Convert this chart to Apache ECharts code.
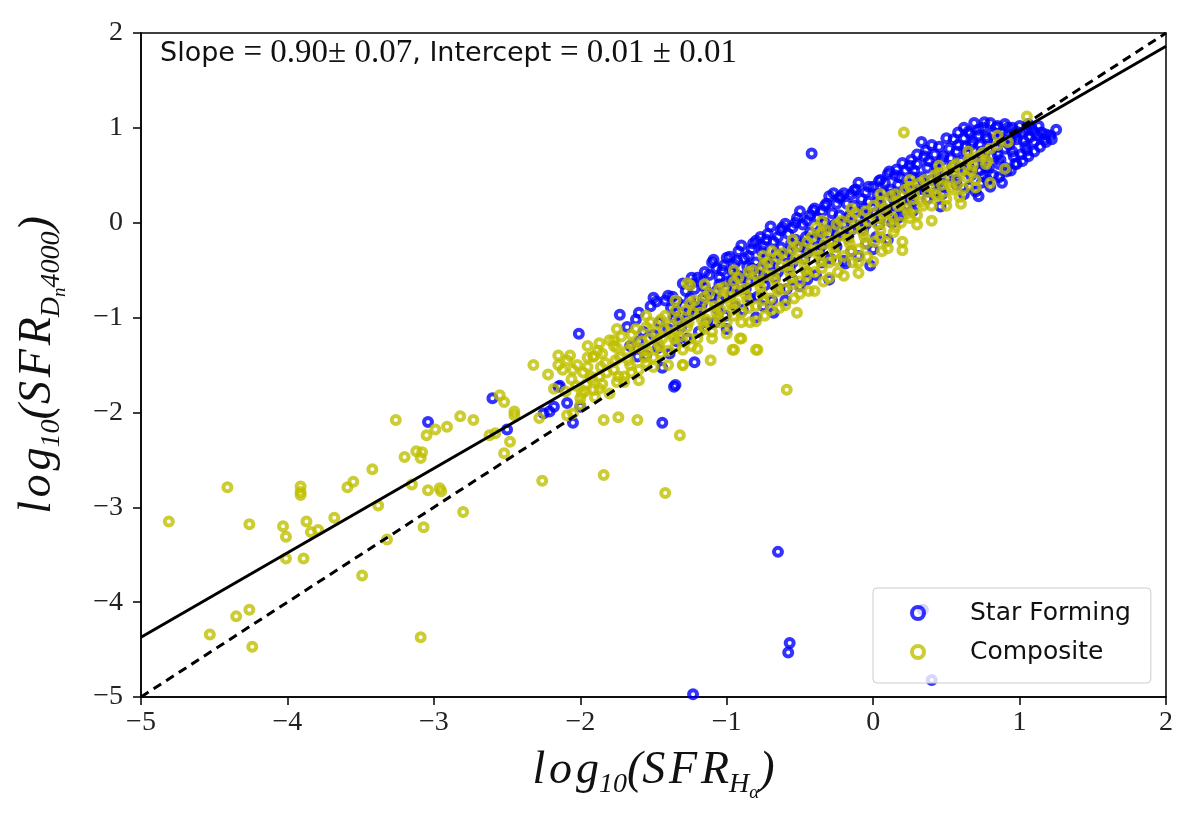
<!DOCTYPE html>
<html>
<head>
<meta charset="utf-8">
<title>SFR Dn4000 vs Halpha</title>
<script src="https://cdn.jsdelivr.net/npm/echarts@6/dist/echarts.min.js"></script>
<style>
    html, body {margin: 0; padding: 0; background: #fff;}
    #chart {width: 1196px; height: 826px;}
</style>
</head>
<body>
<div id="chart"></div>
<script>
// 坐标轴刻度
var xTicks = [-5, -4, -3, -2, -1, 0, 1, 2];
var yTicks = [-5, -4, -3, -2, -1, 0, 1, 2];

// Star Forming 主带
var sfBand = [
    [-1.73,-0.97],[-1.68,-1.10],[-1.66,-1.30],
    [-1.62,-1.02],[-1.57,-1.15],[-1.55,-1.40],[-1.60,-1.25],
    [-1.52,-0.88],[-1.48,-0.83],[-1.46,-1.05],[-1.50,-1.18],[-1.44,-1.53],[-1.47,-1.32],
    [-1.42,-0.82],[-1.38,-0.90],[-1.36,-1.00],[-1.40,-1.12],[-1.34,-1.25],[-1.39,-1.38],
    [-1.34,-0.83],[-1.30,-0.87],[-1.28,-0.72],[-1.26,-0.95],[-1.31,-1.10],[-1.27,-1.22],[-1.22,-1.47],
    [-1.22,-0.70],[-1.18,-0.62],[-1.16,-0.80],[-1.20,-0.90],[-1.14,-1.05],[-1.19,-1.15],[-1.24,-0.58],
    [-1.12,-0.55],[-1.09,-0.39],[-1.07,-0.48],[-1.05,-0.65],[-1.10,-0.78],[-1.06,-0.92],[-1.08,-1.05],
    [-1.02,-0.45],[-0.98,-0.36],[-0.96,-0.52],[-1.00,-0.62],[-0.97,-0.75],[-0.94,-0.88],[-1.01,-0.98],
    [-0.92,-0.30],[-0.88,-0.38],[-0.86,-0.46],[-0.90,-0.58],[-0.87,-0.70],[-0.84,-0.80],[-0.89,-0.92],
    [-0.82,-0.22],[-0.77,-0.15],[-0.76,-0.30],[-0.80,-0.42],[-0.78,-0.55],[-0.74,-0.66],[-0.79,-0.78],[-0.75,-0.88],
    [-0.72,-0.12],[-0.68,-0.20],[-0.66,-0.32],[-0.70,-0.45],[-0.67,-0.58],[-0.68,-0.95],[-0.64,-0.70],[-0.69,-0.82],
    [-0.62,-0.05],[-0.58,-0.12],[-0.56,-0.22],[-0.60,-0.35],[-0.57,-0.48],[-0.55,-0.60],[-0.59,-0.70],
    [-0.52,0.05],[-0.48,-0.02],[-0.46,-0.15],[-0.50,-0.25],[-0.47,-0.38],[-0.50,-0.67],[-0.45,-0.52],
    [-0.41,0.13],[-0.38,0.05],[-0.36,-0.08],[-0.40,-0.18],[-0.37,-0.30],[-0.35,-0.42],[-0.39,-0.55],
    [-0.32,0.20],[-0.27,0.31],[-0.28,0.10],[-0.26,-0.02],[-0.30,-0.12],[-0.30,-0.60],[-0.25,-0.25],[-0.29,-0.38],
    [-0.22,0.28],[-0.18,0.20],[-0.16,0.08],[-0.20,-0.02],[-0.19,-0.43],[-0.17,-0.15],[-0.15,-0.30],
    [-0.12,0.35],[-0.08,0.25],[-0.06,0.15],[-0.10,0.05],[-0.02,-0.45],[-0.07,-0.08],[-0.05,-0.22],
    [0.00,0.38],[0.03,0.30],[0.05,0.20],[0.01,0.10],[0.04,-0.02],[0.02,-0.15],
    [0.11,0.54],[0.08,0.42],[0.12,0.35],[0.14,0.25],[0.10,0.12],[0.13,0.00],
    [0.22,0.55],[0.18,0.48],[0.24,0.40],[0.20,0.30],[0.23,0.18],[0.19,0.08],
    [0.33,0.85],[0.30,0.62],[0.28,0.55],[0.34,0.45],[0.31,0.35],[0.27,0.22],
    [0.42,0.72],[0.38,0.65],[0.44,0.55],[0.40,0.45],[0.46,0.17],[0.43,0.32],
    [0.50,0.89],[0.52,0.78],[0.48,0.70],[0.54,0.60],[0.51,0.48],[0.47,0.38],
    [0.62,0.89],[0.58,0.82],[0.64,0.74],[0.60,0.65],[0.63,0.55],[0.57,0.45],
    [0.69,1.05],[0.72,0.92],[0.68,0.85],[0.74,0.75],[0.70,0.62],[0.75,0.49],[0.73,0.55],
    [0.80,1.05],[0.82,0.95],[0.78,0.88],[0.84,0.80],[0.81,0.70],[0.86,0.62],[0.79,0.58],
    [0.91,0.54],[0.92,1.00],[0.88,0.95],[0.94,0.88],[0.90,0.78],[0.96,0.70],
    [1.00,1.02],[1.02,0.95],[0.98,0.88],[1.04,0.80],[1.01,0.72],
    [1.08,1.00],[1.12,0.92],[1.10,0.85],
    [1.21,0.92],[1.25,0.98]
];

// Star Forming 主带（中间列）
var sfBand2 = [
    [-1.35,-0.95],[-1.33,-1.05],[-1.37,-0.78],
    [-1.25,-0.80],[-1.23,-0.88],[-1.27,-1.00],[-1.25,-0.65],
    [-1.15,-0.68],[-1.13,-0.74],[-1.17,-0.86],[-1.15,-0.52],
    [-1.05,-0.58],[-1.03,-0.50],[-1.07,-0.72],[-1.05,-0.82],
    [-0.95,-0.44],[-0.93,-0.55],[-0.97,-0.62],[-0.95,-0.68],[-0.93,-0.40],
    [-0.85,-0.35],[-0.83,-0.48],[-0.87,-0.55],[-0.85,-0.62],[-0.83,-0.28],
    [-0.75,-0.25],[-0.73,-0.38],[-0.77,-0.48],[-0.75,-0.58],[-0.73,-0.18],
    [-0.65,-0.15],[-0.63,-0.26],[-0.67,-0.40],[-0.65,-0.52],[-0.63,-0.08],
    [-0.55,-0.05],[-0.53,-0.18],[-0.57,-0.30],[-0.55,-0.42],[-0.53,0.00],
    [-0.45,0.02],[-0.43,-0.10],[-0.47,-0.22],[-0.45,-0.32],[-0.43,0.08],
    [-0.35,0.12],[-0.33,0.00],[-0.37,-0.12],[-0.35,-0.24],[-0.33,0.18],
    [-0.25,0.20],[-0.23,0.08],[-0.27,-0.05],[-0.25,-0.15],[-0.23,0.26],
    [-0.15,0.30],[-0.13,0.18],[-0.17,0.05],[-0.15,-0.08],[-0.13,0.34],
    [-0.05,0.32],[-0.03,0.22],[-0.07,0.10],[-0.05,-0.02],[-0.03,0.38],
    [0.05,0.45],[0.07,0.32],[0.03,0.22],[0.05,0.05],[0.07,0.15],
    [0.15,0.50],[0.17,0.40],[0.13,0.30],[0.15,0.18],[0.17,0.05],
    [0.25,0.60],[0.27,0.48],[0.23,0.36],[0.25,0.25],[0.27,0.12],
    [0.35,0.70],[0.37,0.58],[0.33,0.48],[0.35,0.35],[0.37,0.25],
    [0.45,0.80],[0.47,0.66],[0.43,0.60],[0.45,0.42],[0.47,0.30],
    [0.55,0.88],[0.57,0.75],[0.53,0.68],[0.55,0.52],[0.57,0.40],
    [0.65,0.96],[0.67,0.82],[0.63,0.80],[0.65,0.60],[0.67,0.50],
    [0.75,1.00],[0.77,0.90],[0.73,0.82],[0.75,0.68],[0.77,0.58],
    [0.85,1.02],[0.87,0.90],[0.83,0.86],[0.85,0.72],[0.87,0.66],
    [0.95,1.00],[0.97,0.92],[0.93,0.82],[0.95,0.75],[0.97,0.62],
    [1.05,0.98],[1.07,0.90],[1.03,0.86],[1.05,0.76],
    [1.15,0.95],[1.17,0.88],[1.13,1.02]
];

// Star Forming 主带边缘
var sfBand3 = [
    [0.62,0.30],[0.66,0.38],[0.70,0.33],[0.74,0.42],[0.78,0.45],[0.82,0.50],[0.86,0.48],
    [0.90,0.58],[0.94,0.55],[0.98,0.62],[1.02,0.65],[1.06,0.70],[1.10,0.75],[1.14,0.80],
    [1.18,0.85],[1.22,0.88],[0.88,0.42],[0.80,0.38],[0.72,0.28],
    [0.58,0.95],[0.62,1.00],[0.66,0.94],[0.72,0.98],[0.76,1.06],[0.84,1.00],[0.90,1.04],
    [0.98,0.96],[1.06,1.04],[1.10,0.96],[1.18,0.93],[0.40,0.82],[0.36,0.76],[0.30,0.72],
    [0.26,0.66],[0.20,0.63],[0.16,0.56],[0.10,0.51],[0.04,0.44],
    [-0.10,0.42],[-0.20,0.31],[-0.30,0.28],[-0.40,0.15],[-0.50,0.12],[-0.60,-0.01],
    [-0.70,-0.04],[-0.80,-0.19],[-0.90,-0.24],[-1.00,-0.37],[-1.10,-0.42],[-1.20,-0.58],
    [-1.30,-0.64],[-1.40,-0.77],[-1.50,-0.79],[-1.60,-0.95],
    [-0.10,-0.35],[0.00,-0.28],[0.10,-0.18],[-0.20,-0.40],[-0.45,-0.60],[-0.60,-0.82],
    [-0.80,-1.00],[-1.00,-1.12]
];

// Star Forming 离群点
var sfOutliers = [
    [-3.04,-2.10],[-2.60,-1.85],[-2.50,-2.18],[-2.21,-1.99],[-2.15,-1.73],[-2.01,-1.17],
    [-2.14,-1.72],[-2.18,-1.94],[-2.09,-1.90],[-2.05,-2.11],[-2.00,-1.94],[-2.25,-2.01],
    [-1.44,-2.11],[-1.36,-1.73],[-1.61,-1.41],[-1.35,-1.71],[-0.42,0.73],
    [-0.65,-3.47],[-0.57,-4.43],[-0.58,-4.53],[-1.23,-4.97],[0.40,-4.82],[0.34,-4.08]
];

// Composite 主带
var compBand = [
    [-2.22,-1.60],[-2.18,-1.75],[-2.15,-1.50],
    [-2.12,-1.55],[-2.09,-1.45],[-2.06,-1.65],[-2.10,-1.78],
    [-2.02,-1.50],[-1.98,-1.58],[-1.96,-1.70],[-2.00,-1.85],[-1.95,-1.42],
    [-1.91,-1.41],[-1.88,-1.35],[-1.86,-1.52],[-1.92,-1.65],[-1.87,-1.75],
    [-1.80,-1.24],[-1.77,-1.30],[-1.76,-1.45],[-1.82,-1.58],[-1.74,-1.62],
    [-1.72,-1.20],[-1.68,-1.35],[-1.66,-1.50],[-1.70,-1.62],[-1.65,-1.28],
    [-1.62,-1.12],[-1.58,-1.25],[-1.56,-1.42],[-1.60,-1.55],[-1.54,-1.35],
    [-1.52,-1.05],[-1.48,-1.15],[-1.46,-1.30],[-1.50,-1.42],[-1.44,-1.22],
    [-1.42,-0.98],[-1.38,-1.08],[-1.36,-1.22],[-1.40,-1.35],[-1.34,-1.15],
    [-1.30,-1.50],[-1.27,-0.64],[-1.28,-0.92],[-1.26,-1.05],[-1.32,-1.20],[-1.24,-1.30],
    [-1.22,-0.82],[-1.18,-0.95],[-1.16,-1.10],[-1.20,-1.22],[-1.14,-1.02],
    [-1.11,-1.45],[-1.12,-0.75],[-1.08,-0.88],[-1.06,-1.00],[-1.10,-1.15],[-1.04,-0.92],
    [-1.02,-0.68],[-0.98,-0.78],[-0.96,-0.92],[-1.00,-1.05],[-0.95,-1.34],[-0.94,-0.85],
    [-0.91,-1.22],[-0.92,-0.58],[-0.88,-0.70],[-0.86,-0.82],[-0.90,-0.95],[-0.84,-1.05],
    [-0.80,-1.34],[-0.82,-0.50],[-0.78,-0.62],[-0.76,-0.75],[-0.80,-0.88],[-0.74,-0.98],
    [-0.72,-0.42],[-0.68,-0.55],[-0.66,-0.68],[-0.70,-0.80],[-0.64,-0.90],[-0.69,-0.30],
    [-0.62,-0.32],[-0.58,-0.45],[-0.56,-0.58],[-0.60,-0.70],[-0.54,-0.80],
    [-0.52,-0.95],[-0.52,-0.25],[-0.48,-0.38],[-0.46,-0.50],[-0.50,-0.62],[-0.44,-0.72],
    [-0.42,-0.15],[-0.38,-0.28],[-0.36,-0.40],[-0.40,-0.52],[-0.34,-0.62],[-0.39,-0.05],
    [-0.32,-0.08],[-0.28,-0.20],[-0.26,-0.32],[-0.30,-0.42],[-0.24,-0.52],
    [-0.22,0.02],[-0.18,-0.10],[-0.16,-0.22],[-0.20,-0.35],[-0.14,-0.42],
    [-0.10,-0.53],[-0.12,0.10],[-0.08,-0.02],[-0.06,-0.15],[-0.10,-0.28],[-0.04,-0.36],
    [0.00,0.18],[0.03,0.05],[0.05,-0.08],[0.01,-0.20],[0.06,-0.30],
    [0.12,0.28],[0.08,0.15],[0.10,0.02],[0.14,-0.10],[0.09,-0.20],
    [0.20,-0.29],[0.22,0.35],[0.18,0.22],[0.24,0.10],[0.19,0.00],
    [0.32,0.42],[0.28,0.30],[0.34,0.18],[0.30,0.08],
    [0.42,0.50],[0.38,0.38],[0.44,0.28],[0.40,0.18],
    [0.52,0.55],[0.48,0.45],[0.54,0.35],[0.50,0.25],
    [0.59,0.27],[0.62,0.36],[0.60,0.55],[0.64,0.48],[0.57,0.62],
    [0.72,0.70],[0.68,0.60],[0.70,0.45],
    [0.80,0.78],[0.78,0.65],[0.92,0.85],[1.05,1.12],[0.21,0.95]
];

// Composite 主带（中间列）
var compBand2 = [
    [-2.05,-1.55],[-2.03,-1.72],[-2.07,-1.40],
    [-1.95,-1.52],[-1.93,-1.62],[-1.97,-1.78],
    [-1.85,-1.38],[-1.83,-1.48],[-1.87,-1.62],[-1.85,-1.70],
    [-1.75,-1.32],[-1.73,-1.42],[-1.77,-1.55],[-1.75,-1.68],
    [-1.65,-1.18],[-1.63,-1.32],[-1.67,-1.45],[-1.65,-1.58],
    [-1.55,-1.10],[-1.53,-1.22],[-1.57,-1.35],[-1.55,-1.48],
    [-1.45,-1.02],[-1.43,-1.12],[-1.47,-1.26],[-1.45,-1.38],
    [-1.35,-0.92],[-1.33,-1.02],[-1.37,-1.18],[-1.35,-1.30],
    [-1.25,-0.85],[-1.23,-0.95],[-1.27,-1.10],[-1.25,-1.22],
    [-1.15,-0.78],[-1.13,-0.88],[-1.17,-1.02],[-1.15,-1.12],
    [-1.05,-0.70],[-1.03,-0.80],[-1.07,-0.95],[-1.05,-1.05],
    [-0.95,-0.62],[-0.93,-0.72],[-0.97,-0.85],[-0.95,-0.98],
    [-0.85,-0.52],[-0.83,-0.62],[-0.87,-0.76],[-0.85,-0.90],
    [-0.75,-0.45],[-0.73,-0.55],[-0.77,-0.68],[-0.75,-0.82],
    [-0.65,-0.36],[-0.63,-0.46],[-0.67,-0.60],[-0.65,-0.72],
    [-0.55,-0.28],[-0.53,-0.38],[-0.57,-0.52],[-0.55,-0.65],
    [-0.45,-0.20],[-0.43,-0.30],[-0.47,-0.44],[-0.45,-0.55],
    [-0.35,-0.10],[-0.33,-0.22],[-0.37,-0.35],[-0.35,-0.48],
    [-0.25,-0.02],[-0.23,-0.14],[-0.27,-0.26],[-0.25,-0.40],
    [-0.15,0.05],[-0.13,-0.06],[-0.17,-0.18],[-0.15,-0.30],
    [-0.05,0.12],[-0.03,0.02],[-0.07,-0.10],[-0.05,-0.22],
    [0.05,0.22],[0.07,0.10],[0.03,-0.02],[0.05,-0.15],
    [0.15,0.30],[0.17,0.18],[0.13,0.06],[0.15,-0.05],
    [0.25,0.38],[0.27,0.25],[0.23,0.15],[0.25,0.05],
    [0.35,0.45],[0.37,0.32],[0.33,0.22],
    [0.45,0.52],[0.47,0.40],[0.43,0.30],
    [0.55,0.60],[0.57,0.46],[0.53,0.38],
    [0.65,0.66],[0.67,0.55],
    [0.75,0.74],[0.77,0.62],
    [0.85,0.82]
];

// Composite 主带边缘
var compBand3 = [
    [-2.00,-1.92],[-1.90,-1.84],[-1.80,-1.80],[-1.70,-1.68],[-1.60,-1.66],[-1.50,-1.52],
    [-1.40,-1.50],[-1.30,-1.34],[-1.20,-1.33],[-1.10,-1.22],[-1.00,-1.17],[-0.90,-1.05],
    [-0.80,-1.04],[-0.70,-0.92],[-0.60,-0.87],[-0.50,-0.75],[-0.40,-0.72],[-0.30,-0.58],
    [-0.20,-0.56],[-0.10,-0.42],[0.00,-0.41],[0.10,-0.27],[0.20,-0.20],[0.30,-0.02],
    [0.40,0.02],[0.50,0.18],[0.60,0.20],[0.70,0.37],[0.80,0.42],[0.90,0.57],
    [-2.15,-1.40],[-1.95,-1.30],[-1.75,-1.12],[-1.55,-0.98],[-1.35,-0.82],[-1.15,-0.65],
    [-0.95,-0.50],[-0.75,-0.35],[-0.55,-0.18],[-0.35,0.02],[-0.15,0.15],[0.05,0.30],
    [0.25,0.45],[0.45,0.60],[0.65,0.75],[0.85,0.92]
];

// Composite 离群点
var compOutliers = [
    [-4.81,-3.15],[-4.41,-2.79],[-4.26,-3.18],[-4.03,-3.20],[-4.01,-3.31],[-3.91,-2.78],
    [-3.91,-2.84],[-3.91,-2.87],[-3.87,-3.15],[-3.84,-3.26],[-3.79,-3.24],[-4.01,-3.54],
    [-3.89,-3.54],[-3.68,-3.11],[-3.59,-2.79],[-3.55,-2.73],[-3.42,-2.60],[-3.38,-2.98],
    [-3.32,-3.34],[-3.49,-3.72],[-3.26,-2.08],[-3.20,-2.47],[-3.12,-2.41],[-3.08,-2.42],
    [-3.09,-2.48],[-3.05,-2.24],[-2.99,-2.18],[-2.91,-2.15],[-2.82,-2.04],[-2.73,-2.08],
    [-3.15,-2.76],[-3.04,-2.82],[-2.96,-2.80],[-2.95,-2.83],[-3.07,-3.21],[-2.80,-3.05],
    [-3.09,-4.37],[-4.53,-4.34],[-4.35,-4.15],[-4.26,-4.08],[-4.24,-4.47],[-2.62,-2.24],
    [-2.58,-2.22],[-2.48,-2.31],[-2.52,-2.43],[-2.55,-1.82],[-2.52,-1.89],[-2.45,-1.99],
    [-2.45,-2.03],[-2.28,-2.06],[-2.26,-2.72],[-2.32,-1.50],[-2.09,-2.03],[-2.05,-2.01],
    [-1.99,-1.80],[-1.91,-1.76],[-1.84,-2.08],[-1.74,-2.05],[-1.61,-2.08],[-1.32,-2.24],
    [-1.84,-2.66],[-1.42,-2.85],[-1.30,-1.50],[-0.96,-1.34],[-0.79,-1.34],[-0.90,-1.22],
    [-1.87,-1.27],[-1.77,-1.24],[-1.91,-1.41],[-1.25,-0.66],[-0.59,-1.76]
];

// 拟合线与 1:1 线
var fitLine = [[-5, -4.37], [2, 1.86]];
var oneToOne = [[-5, -5], [2, 2]];

var mathFont = 'Liberation Serif';
var sansFont = 'DejaVu Sans';
var hs = '\u200a';

function minusLabel(v) {
    return String(v).replace('-', '\u2212');
}

function initChart() {
    var chart = echarts.init(document.getElementById('chart'));

    // 下标用 padding 往下压
    var nameRich = {
        m: {fontFamily: mathFont, fontStyle: 'italic', fontSize: 46, color: '#111'},
        s: {fontFamily: mathFont, fontStyle: 'italic', fontSize: 28, padding: [28, 0, 0, 0], color: '#111'},
        ss: {fontFamily: mathFont, fontStyle: 'italic', fontSize: 19, padding: [44, 0, 0, 0], color: '#111'}
    };
    var sfr = 'S' + hs + 'F' + hs + 'R';
    var lg = 'l' + hs + 'o' + hs + 'g';

    var option = {
        backgroundColor: '#fff',
        animation: false,
        title: {
            left: 155,
            top: 32,
            text: '{t|Slope }{n|= 0.90± 0.07}{t|, Intercept }{n|= 0.01 ± 0.01}',
            textStyle: {
                fontWeight: 'normal',
                rich: {
                    t: {fontFamily: sansFont, fontSize: 27, fontWeight: 'normal', color: '#111'},
                    n: {fontFamily: mathFont, fontSize: 33, fontWeight: 'normal', color: '#111'}
                }
            }
        },
        legend: {
            orient: 'vertical',
            left: 873,
            top: 588,
            padding: [12, 20, 18, 37],
            itemGap: 13,
            itemWidth: 12,
            itemHeight: 12,
            backgroundColor: 'rgba(255,255,255,0.8)',
            borderColor: '#cccccc',
            borderWidth: 1,
            borderRadius: 4,
            itemStyle: {borderWidth: 4},
            textStyle: {fontFamily: sansFont, fontSize: 25, lineHeight: 26, color: '#111', padding: [0, 0, 0, 41]},
            data: [
                {name: 'Star Forming', icon: 'circle'},
                {name: 'Composite', icon: 'circle'}
            ]
        },
        grid: {
            left: 141,
            right: 30,
            top: 33,
            bottom: 129,
            containLabel: false,
            outerBoundsMode: 'none',
            show: true,
            borderColor: '#000',
            borderWidth: 1.5,
            backgroundColor: 'transparent'
        },
        xAxis: {
            type: 'value',
            min: xTicks[0],
            max: xTicks[xTicks.length - 1],
            interval: 1,
            name: '{m|' + lg + '}{s|10}{m|(' + sfr + '}{s|H}{ss|α}{m|)}',
            nameLocation: 'middle',
            nameGap: 42,
            nameMoveOverlap: false,
            nameTextStyle: {rich: nameRich},
            axisLine: {show: true, onZero: false, lineStyle: {color: '#000', width: 1.5}},
            axisTick: {show: true, length: 8, lineStyle: {color: '#000', width: 1.5}},
            axisLabel: {fontFamily: mathFont, fontSize: 28, color: '#222', margin: 12, formatter: minusLabel},
            splitLine: {show: false}
        },
        yAxis: {
            type: 'value',
            min: yTicks[0],
            max: yTicks[yTicks.length - 1],
            interval: 1,
            name: '{m|' + lg + '}{s|10}{m|(' + sfr + '}{s|D}{ss|n}{s|4000}{m|)}',
            nameLocation: 'middle',
            nameRotate: 90,
            nameGap: 72,
            nameMoveOverlap: false,
            nameTextStyle: {rich: nameRich},
            axisLine: {show: true, onZero: false, lineStyle: {color: '#000', width: 1.5}},
            axisTick: {show: true, length: 8, lineStyle: {color: '#000', width: 1.5}},
            axisLabel: {fontFamily: mathFont, fontSize: 28, color: '#222', margin: 18, formatter: minusLabel},
            splitLine: {show: false}
        },
        series: [
            {
                name: 'Star Forming',
                type: 'scatter',
                symbol: 'circle',
                symbolSize: 8,
                data: sfBand.concat(sfBand2, sfBand3, sfOutliers),
                itemStyle: {color: 'rgba(0,0,0,0)', borderColor: '#0000ff', borderWidth: 4},
                z: 2
            },
            {
                name: 'Composite',
                type: 'scatter',
                symbol: 'circle',
                symbolSize: 8,
                data: compBand.concat(compBand2, compBand3, compOutliers),
                itemStyle: {color: 'rgba(0,0,0,0)', borderColor: '#bfbf00', borderWidth: 4},
                z: 3
            },
            {
                name: 'fit',
                type: 'line',
                data: fitLine,
                symbol: 'none',
                silent: true,
                lineStyle: {color: '#000', width: 3},
                z: 5
            },
            {
                name: 'one-to-one',
                type: 'line',
                data: oneToOne,
                symbol: 'none',
                silent: true,
                lineStyle: {color: '#000', width: 3, type: [9, 6]},
                z: 5
            }
        ]
    };
    chart.setOption(option);
}

try {
    initChart();
} catch (e) {
    console.error(e);
}
</script>
</body>
</html>
